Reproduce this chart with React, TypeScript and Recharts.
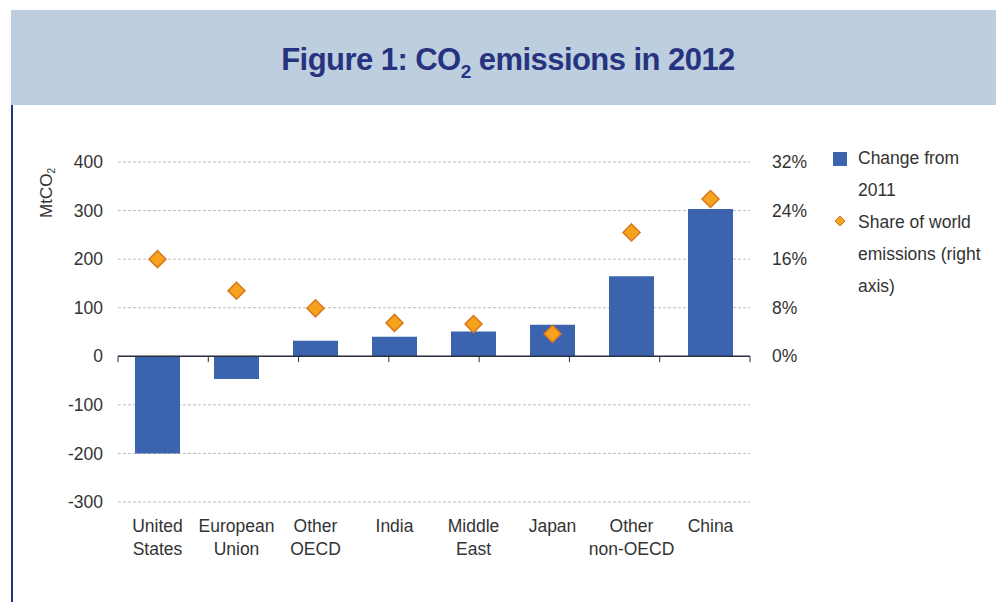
import { Bar, CartesianGrid, ComposedChart, Line, ReferenceLine, XAxis, YAxis } from "recharts";

const categories = [
  "United States",
  "European Union",
  "Other OECD",
  "India",
  "Middle East",
  "Japan",
  "Other non-OECD",
  "China"
];
// MtCO2 change from 2011
const changeFrom2011 = [-200, -47, 32, 40, 51, 65, 165, 303];
// share of world emissions, %
const shareOfWorld = [16, 10.8, 7.9, 5.5, 5.3, 3.7, 20.4, 25.9];
const leftTicks = [-300, -200, -100, 0, 100, 200, 300, 400];
const rightTicks = [0, 8, 16, 24, 32];
const boundaryTicks = [0, 1, 2, 3, 4, 5, 6, 7, 8];

const FONT = "'Liberation Sans', Arial, Helvetica, sans-serif";
const TEXT = "#333333";
const BAR = "#3c64ae";
const DIAMOND_FILL = "#f6a21c";
const DIAMOND_STROKE = "#d9781d";
const NAVY = "#27337f";

const data = categories.map((name, i) => ({
  name,
  change: changeFrom2011[i],
  share: shareOfWorld[i]
}));

function CategoryTick({ x, y, payload }: any) {
  const label: string = payload.value;
  const idx = label.indexOf(" ");
  const lines = idx < 0 ? [label] : [label.slice(0, idx), label.slice(idx + 1)];
  return (
    <text x={x} y={y} textAnchor="middle" fill={TEXT} fontSize={17.5} fontFamily={FONT}>
      {lines.map((line, i) => (
        <tspan key={i} x={x} dy={i === 0 ? -8 : 23}>
          {line}
        </tspan>
      ))}
    </text>
  );
}

function DiamondDot({ cx, cy }: any) {
  if (cx == null || cy == null) return null;
  const r = 8.5;
  return (
    <path
      d={`M${cx},${cy - r} L${cx + r},${cy} L${cx},${cy + r} L${cx - r},${cy} Z`}
      fill={DIAMOND_FILL}
      stroke={DIAMOND_STROKE}
      strokeWidth={1.5}
    />
  );
}

export default function App() {
  return (
    <div
      style={{
        position: "absolute",
        left: 0,
        top: 0,
        width: 996,
        height: 602,
        background: "#ffffff",
        fontFamily: FONT,
        overflow: "hidden"
      }}
    >
      <div
        style={{
          position: "absolute",
          left: 11,
          top: 10,
          width: 985,
          height: 95,
          background: "#bdcfdf",
          display: "flex",
          alignItems: "center",
          justifyContent: "center",
          color: NAVY,
          fontWeight: 700,
          fontSize: 31,
          letterSpacing: -0.55,
          boxSizing: "border-box",
          paddingLeft: 9,
          paddingTop: 9
        }}
      >
        <span>
          Figure 1: CO
          <sub style={{ fontSize: 19, verticalAlign: "-8px" }}>2</sub> emissions in 2012
        </span>
      </div>
      <div
        style={{
          position: "absolute",
          left: 11,
          top: 105,
          width: 1.5,
          height: 497,
          background: NAVY
        }}
      />

      <div
        style={{
          position: "absolute",
          left: 47,
          top: 193,
          transform: "translate(-50%, -50%) rotate(-90deg)",
          fontSize: 17,
          color: TEXT,
          whiteSpace: "nowrap"
        }}
      >
        MtCO<sub style={{ fontSize: 10, verticalAlign: "-3px" }}>2</sub>
      </div>

      <div style={{ position: "absolute", left: 0, top: 0 }}>
        <ComposedChart
          width={996}
          height={602}
          data={data}
          margin={{ top: 162, left: 58, right: 186, bottom: 40 }}
        >
          <CartesianGrid
            yAxisId="left"
            vertical={false}
            stroke="#bcbcbc"
            strokeDasharray="3 2"
          />
          <XAxis
            xAxisId="cat"
            dataKey="name"
            type="category"
            interval={0}
            axisLine={false}
            tickLine={false}
            height={60}
            tick={<CategoryTick />}
          />
          <XAxis xAxisId="bounds" type="number" domain={[0, 8]} ticks={boundaryTicks} hide />
          <YAxis
            yAxisId="left"
            domain={[-300, 400]}
            ticks={leftTicks}
            interval={0}
            width={60}
            axisLine={false}
            tickLine={false}
            tickMargin={9}
            tick={{ fill: TEXT, fontSize: 17.5, fontFamily: FONT }}
          />
          <YAxis
            yAxisId="right"
            orientation="right"
            domain={[-24, 32]}
            ticks={rightTicks}
            interval={0}
            width={60}
            axisLine={false}
            tickLine={false}
            tickMargin={16}
            tickFormatter={(v) => `${v}%`}
            tick={{ fill: TEXT, fontSize: 17.5, fontFamily: FONT, textAnchor: "start" }}
          />
          <Bar
            xAxisId="cat"
            yAxisId="left"
            dataKey="change"
            fill={BAR}
            barSize={45}
            isAnimationActive={false}
          />
          <ReferenceLine xAxisId="cat" yAxisId="left" y={0} stroke="#2c2f3d" strokeWidth={1.5} />
          {boundaryTicks.map((b) => (
            <ReferenceLine
              key={b}
              xAxisId="bounds"
              yAxisId="left"
              segment={[
                { x: b, y: 0 },
                { x: b, y: -12 }
              ]}
              stroke="#2c2f3d"
              strokeWidth={1}
            />
          ))}
          <Line
            xAxisId="cat"
            yAxisId="right"
            dataKey="share"
            stroke="none"
            dot={<DiamondDot />}
            activeDot={false}
            isAnimationActive={false}
          />
        </ComposedChart>
      </div>

      <div
        style={{
          position: "absolute",
          left: 832,
          top: 142,
          fontSize: 17.5,
          color: TEXT,
          lineHeight: "32px"
        }}
      >
        <div style={{ position: "relative", paddingLeft: 26 }}>
          <span
            style={{
              position: "absolute",
              left: 1,
              top: 10,
              width: 14,
              height: 14,
              background: BAR
            }}
          />
          Change from
          <br />
          2011
        </div>
        <div style={{ position: "relative", paddingLeft: 26 }}>
          <svg
            width={12}
            height={12}
            style={{ position: "absolute", left: 2, top: 9 }}
          >
            <path d="M6,1 L11,6 L6,11 L1,6 Z" fill={DIAMOND_FILL} stroke={DIAMOND_STROKE} strokeWidth={1} />
          </svg>
          Share of world
          <br />
          emissions (right
          <br />
          axis)
        </div>
      </div>
    </div>
  );
}
